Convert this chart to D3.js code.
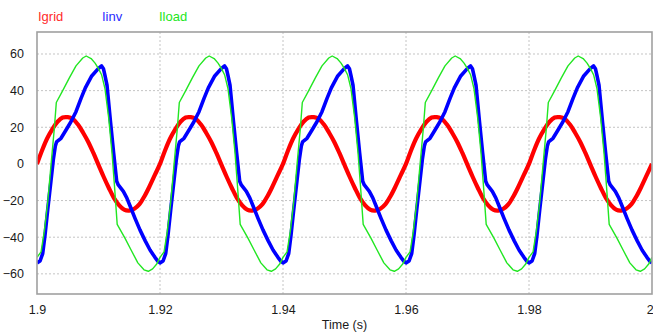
<!DOCTYPE html>
<html>
<head>
<meta charset="utf-8">
<script src="https://cdn.jsdelivr.net/npm/d3@7"></script>
<style>
  html, body { margin: 0; padding: 0; background: #ffffff; }
  svg { display: block; }
  text { font-family: "Liberation Sans", Arial, sans-serif; }
</style>
</head>
<body>
<svg id="chart" width="653" height="332"></svg>
<script>
// ---- Data ----
const seriesNames = ["Igrid", "Iinv", "Iload"];
const cycleStarts = [1.90, 1.92, 1.94, 1.96, 1.98];   // s, one 50 Hz period each
const period = 0.02;                                   // s

// Igrid: phase within a cycle (fraction) and value (A)
const igridPhase = [0, 0.0417, 0.0833, 0.125, 0.1667, 0.2083, 0.25, 0.2917, 0.3333, 0.375, 0.4167, 0.4583,
                    0.5, 0.5417, 0.5833, 0.625, 0.6667, 0.7083, 0.75, 0.7917, 0.8333, 0.875, 0.9167, 0.9583, 1];
const igridValue = [0, 7.5, 14, 19, 23, 25.3, 25.5, 24.5, 21.5, 17, 12, 6,
                    -0.5, -7, -13, -18.5, -22.5, -25, -25.5, -24.5, -22, -17.5, -12, -6, 0];

// Iinv
const iinvPhase = [0, 0.025, 0.046, 0.065, 0.087, 0.114, 0.133, 0.149, 0.159, 0.195, 0.236, 0.276, 0.317,
                   0.358, 0.393, 0.445, 0.498, 0.525, 0.540, 0.552, 0.569, 0.596, 0.623, 0.648, 0.661,
                   0.702, 0.730, 0.760, 0.797, 0.837, 0.880, 0.919, 0.959, 0.985, 1];
const iinvValue = [-54, -53, -49, -39, -25, -9, 2.5, 9.8, 12, 14, 18.5, 23, 28.5,
                   35.8, 41.5, 48, 52, 53.5, 52, 48.5, 43, 24, 6, -9.5, -11.5,
                   -15, -18.5, -23.5, -29.7, -36, -42, -47, -51, -53.3, -54];

// Iload
const iloadPhase = [0, 0.033, 0.059, 0.087, 0.114, 0.141, 0.157, 0.209, 0.263, 0.317, 0.372, 0.400, 0.44,
                    0.472, 0.5, 0.526, 0.553, 0.583, 0.610, 0.632, 0.652, 0.715, 0.765, 0.82,
                    0.87, 0.905, 0.94, 0.975, 1];
const iloadValue = [-51, -48, -37, -21, -0.5, 19.5, 33.5, 40, 47, 53.5, 57.8, 58.9, 57.5,
                    55, 52, 48.5, 41, 25, 6, -14, -33, -40.5, -47, -54,
                    -57.8, -58.6, -57.3, -54.5, -51];

const xTicks = [1.9, 1.92, 1.94, 1.96, 1.98, 2.0];
const xTickLabels = ["1.9", "1.92", "1.94", "1.96", "1.98", "2"];
const yTicks = [-60, -40, -20, 0, 20, 40, 60];
const xTitle = "Time (s)";

// ---- Build series by repeating the read cycle over each period ----
function tile(phase, value) {
  const pts = [];
  cycleStarts.forEach((t0, ci) => {
    phase.forEach((p, i) => {
      if (p === 1 && ci < cycleStarts.length - 1) return;
      pts.push({ t: t0 + p * period, v: value[i] });
    });
  });
  return pts;
}
const series = [
  { name: seriesNames[0], color: "#ff0000", width: 4.2, curve: d3.curveCatmullRom, data: tile(igridPhase, igridValue) },
  { name: seriesNames[1], color: "#0000ff", width: 3.6, curve: d3.curveLinear, data: tile(iinvPhase, iinvValue) },
  { name: seriesNames[2], color: "#22e622", width: 1.4, curve: d3.curveLinear, data: tile(iloadPhase, iloadValue) }
];

// ---- Layout ----
const svg = d3.select("#chart");
const pL = 37, pR = 652, pT = 32, pB = 294;
const x = d3.scaleLinear().domain([1.9, 2.0]).range([pL, pR]);
const y = d3.scaleLinear().domain([-71, 72]).range([pB, pT]);

// grid
const grid = svg.append("g");
grid.selectAll("line.h").data(yTicks).enter().append("line")
  .attr("x1", pL).attr("x2", pR)
  .attr("y1", d => y(d)).attr("y2", d => y(d))
  .attr("stroke", "#c4c4c4").attr("stroke-width", 1).attr("stroke-dasharray", "2,2");
grid.selectAll("line.v").data(xTicks.slice(1, -1)).enter().append("line")
  .attr("x1", d => x(d)).attr("x2", d => x(d))
  .attr("y1", pT).attr("y2", pB)
  .attr("stroke", "#c4c4c4").attr("stroke-width", 1).attr("stroke-dasharray", "2,2");

// clip
svg.append("clipPath").attr("id", "clip").append("rect")
  .attr("x", pL).attr("y", pT).attr("width", pR - pL).attr("height", pB - pT);

const plot = svg.append("g").attr("clip-path", "url(#clip)");
series.forEach(s => {
  const line = d3.line().x(d => x(d.t)).y(d => y(d.v)).curve(s.curve);
  plot.append("path").datum(s.data)
    .attr("d", line)
    .attr("fill", "none")
    .attr("stroke", s.color)
    .attr("stroke-width", s.width)
    .attr("stroke-linejoin", "round");
});

// frame
svg.append("rect").attr("x", pL).attr("y", pT)
  .attr("width", pR - pL).attr("height", pB - pT)
  .attr("fill", "none").attr("stroke", "#a0a0a0").attr("stroke-width", 1.6);

// axes labels
const yAxis = d3.axisLeft(y).tickValues(yTicks).tickSize(0).tickPadding(0);
const gy = svg.append("g").attr("transform", `translate(${24},0)`).call(yAxis);
gy.select(".domain").remove();
gy.selectAll("text").attr("font-size", 12.5).attr("fill", "#1a1a1a")
  .attr("font-family", "Liberation Sans, Arial, sans-serif");

const xAxis = d3.axisBottom(x).tickValues(xTicks).tickSize(0).tickPadding(0)
  .tickFormat((d, i) => xTickLabels[i]);
const gx = svg.append("g").attr("transform", `translate(0,${305})`).call(xAxis);
gx.select(".domain").remove();
gx.selectAll("text").attr("font-size", 12.5).attr("fill", "#1a1a1a")
  .attr("font-family", "Liberation Sans, Arial, sans-serif");
// last label ("2") sits at the right edge; keep it inside the picture
gx.selectAll("text").filter((d, i) => i === xTicks.length - 1)
  .attr("text-anchor", "end").attr("dx", "0.1em");

svg.append("text").attr("x", (pL + pR) / 2).attr("y", 329)
  .attr("text-anchor", "middle").attr("font-size", 12.5).attr("fill", "#1a1a1a")
  .text(xTitle);

// legend
const legendX = [38, 102, 159];
const legendColors = ["#ff2a2a", "#2a2aff", "#22e622"];
svg.selectAll("text.legend").data(seriesNames).enter().append("text")
  .attr("class", "legend")
  .attr("x", (d, i) => legendX[i]).attr("y", 21)
  .attr("font-size", 13).attr("fill", (d, i) => legendColors[i])
  .text(d => d);
</script>
</body>
</html>
